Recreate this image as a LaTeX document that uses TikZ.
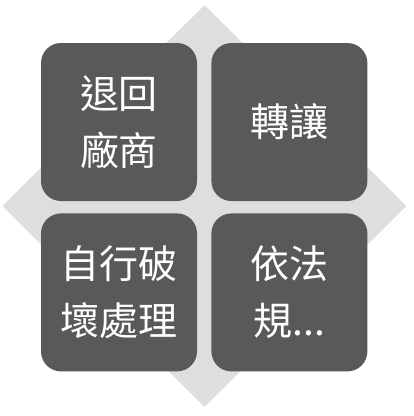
\documentclass[tikz,border=0pt]{standalone}
\usepackage{fontspec}
\newfontfamily\cjk{Noto Sans CJK TC}
\usetikzlibrary{positioning, shapes.geometric}
\definecolor{boxgray}{HTML}{595959}
\definecolor{diagray}{HTML}{DEDEDE}

\begin{document}
\begin{tikzpicture}[x=1pt, y=-1pt, node distance=12pt and 14pt,
    tile/.style={fill=boxgray, rounded corners=20pt, minimum width=156pt,
                 minimum height=158pt, inner sep=0pt, text=white, align=center,
                 font=\cjk\fontsize{39}{57}\selectfont}]
\useasboundingbox (0,0) rectangle (414,416);

% Background
\node[diamond, fill=diagray, minimum width=404pt, minimum height=402pt, inner sep=0pt] (bg) at (204.5,206) {};

% Tiles
\node[tile] (return) at (119,122) {退回\\廠商};
\node[tile, right=of return] (transfer) {轉讓};
\node[tile, below=of return] (destroy) {自行破\\壞處理};
\node[tile, below=of transfer] (law) {依法\\規...};

\end{tikzpicture}
\end{document}
